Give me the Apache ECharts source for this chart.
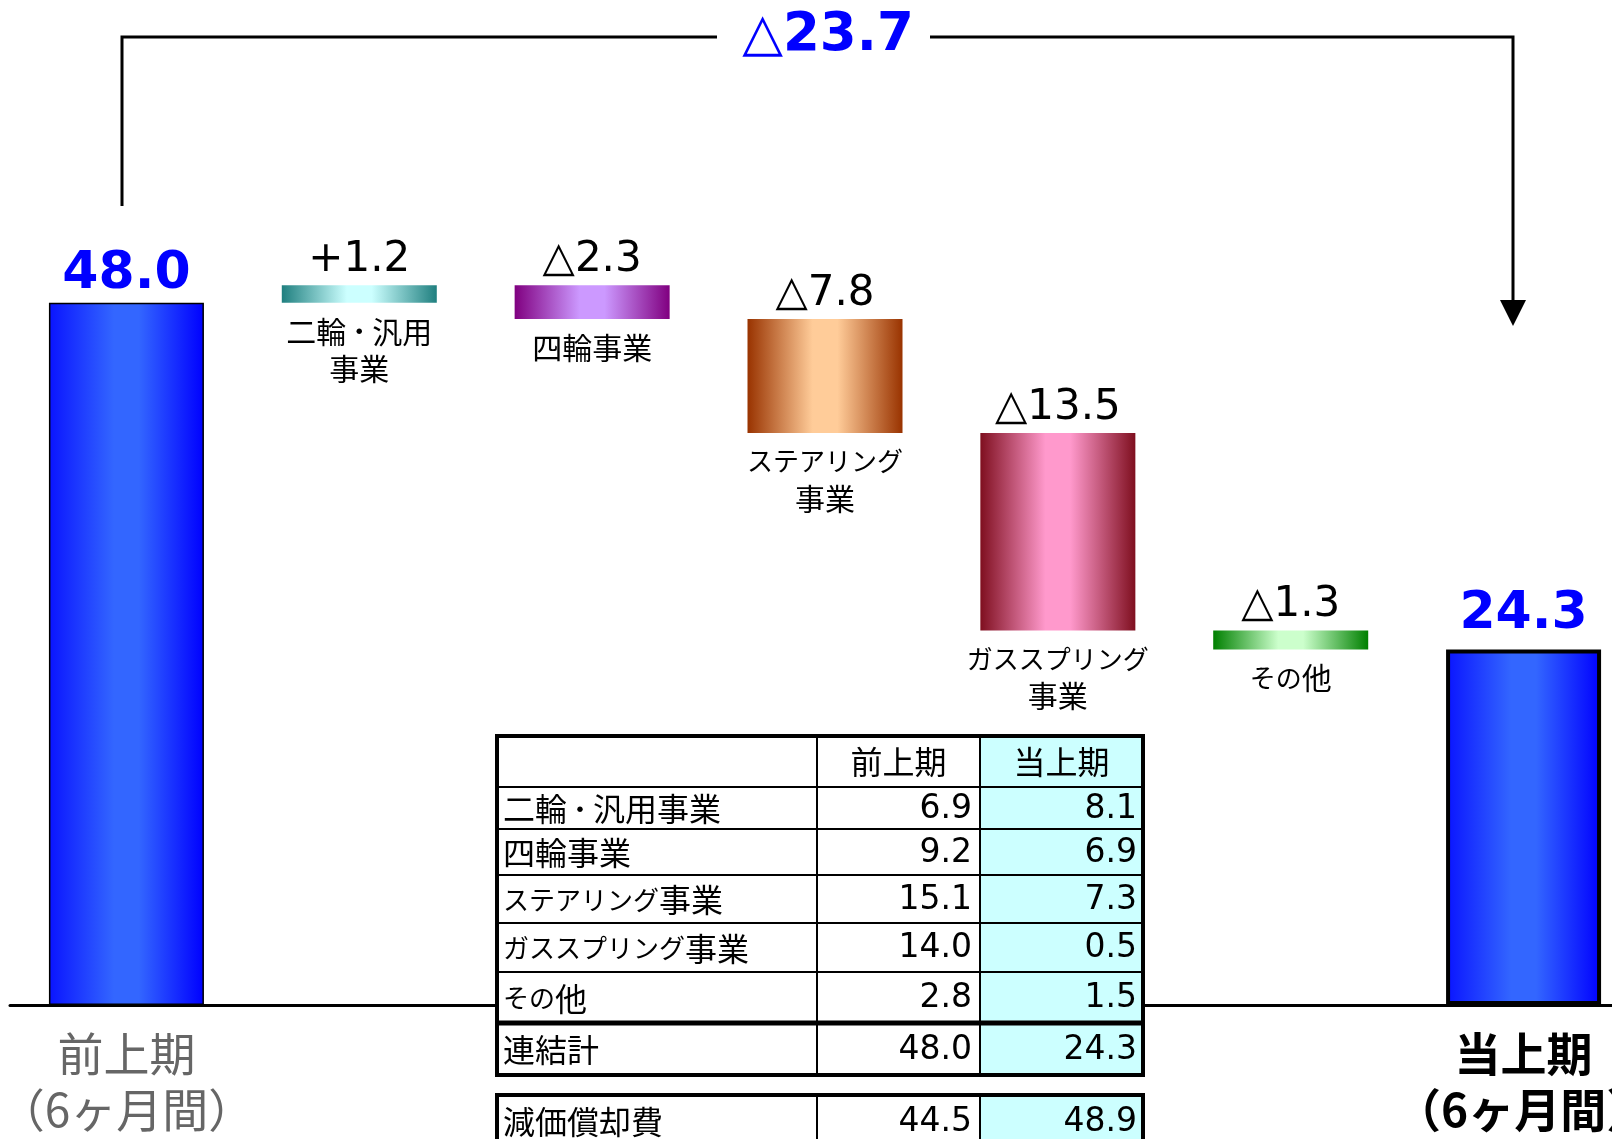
<!DOCTYPE html>
<html>
<head>
<meta charset="utf-8">
<script src="https://cdn.jsdelivr.net/npm/echarts@6/dist/echarts.min.js"></script>
<style>
html, body { margin: 0; padding: 0; background: #fff; }
#chart { width: 1612px; height: 1139px; }
</style>
</head>
<body>
<div id="chart"></div>
<script>
// カテゴリ・データ
var categories = ['前上期\n（6ヶ月間）', '二輪・汎用\n事業', '四輪事業', 'ステアリング\n事業', 'ガススプリング\n事業', 'その他', '当上期\n（6ヶ月間）'];
var startValue = 48.0;
var endValue = 24.3;
var changes = [1.2, -2.3, -7.8, -13.5, -1.3];
var totalChange = -23.7;

// 表のデータ
var tableHeader = ['', '前上期', '当上期'];
var tableRows = ['二輪・汎用事業', '四輪事業', 'ステアリング事業', 'ガススプリング事業', 'その他', '連結計'];
var prevValues = [6.9, 9.2, 15.1, 14.0, 2.8, 48.0];
var currValues = [8.1, 6.9, 7.3, 0.5, 1.5, 24.3];
var depreciationLabel = '減価償却費';
var depreciationValues = [44.5, 48.9];

var barColors = [
	['#0A14FF', '#3366FF', '#0000FF'],
	['#1F7F7F', '#CCFFFF', '#1F7F7F'],
	['#800080', '#CC99FF', '#800080'],
	['#993300', '#FFCC99', '#993300'],
	['#7F0F1F', '#FF99CC', '#7F0F1F'],
	['#008000', '#CCFFCC', '#008000'],
	['#0A14FF', '#3366FF', '#0000FF']
];

var jpFont = '"Noto Sans CJK JP"';
var numFont = '"DejaVu Sans", "Noto Sans CJK JP"';

function barGradient(c) {
	return new echarts.graphic.LinearGradient(0, 0, 1, 0, [
		{ offset: 0, color: c[0] },
		{ offset: 0.42, color: c[1] },
		{ offset: 0.58, color: c[1] },
		{ offset: 1, color: c[2] }
	]);
}

function changeText(c) {
	return (c > 0 ? '+' : '△') + Math.abs(c).toFixed(1);
}

// かなは少し細く見せるため小さめの文字にする
function richKana(text) {
	return text.split('\n').map(function (line) {
		return line.replace(/([\u3040-\u30FF]+)|([^\u3040-\u30FF]+)/g, function (m, kana, other) {
			return kana ? '{k|' + kana + '}' : '{j|' + other + '}';
		});
	}).join('\n');
}

// 滝グラフの土台と値
var baseData = [0];
var valueData = [startValue];
var level = startValue;
for (var i = 0; i < changes.length; i++) {
	var next = Math.round((level + changes[i]) * 10) / 10;
	baseData.push(Math.min(level, next));
	valueData.push(Math.abs(changes[i]));
	level = next;
}
baseData.push(0);
valueData.push(endValue);

var lastIndex = categories.length - 1;

var valueItems = [];
for (var j = 0; j < valueData.length; j++) {
	var isTotal = (j === 0 || j === lastIndex);
	valueItems.push({
		value: valueData[j],
		itemStyle: {
			color: barGradient(barColors[j]),
			borderColor: '#000',
			borderWidth: j === lastIndex ? 4 : (j === 0 ? 1.5 : 0)
		},
		label: isTotal ? {
			formatter: valueData[j].toFixed(1),
			color: '#0000FF',
			fontWeight: 'bold',
			fontSize: 52,
			distance: j === 0 ? 2 : 9
		} : {
			formatter: changeText(changes[j - 1]),
			color: '#000',
			fontSize: 42,
			distance: 4
		}
	});
}

// 表
var colX = [497, 817, 980, 1143];
var rowY = [736, 787, 829, 875, 923, 972, 1023, 1075];
var depY = [1095, 1149];

function tableText(text, x, y, align, isNum) {
	var style = {
		fill: '#000',
		align: align, verticalAlign: 'middle'
	};
	if (isNum) {
		style.text = text;
		style.fontSize = 33;
		style.fontFamily = numFont;
	} else {
		style.text = richKana(text);
		style.rich = {
			j: { fontSize: 32, lineHeight: 40, fontFamily: jpFont, fill: '#000' },
			k: { fontSize: 26, lineHeight: 40, fontFamily: jpFont, fill: '#000' }
		};
	}
	return { type: 'text', x: x, y: y, z: 12, style: style };
}

function hLine(x1, x2, y, w) {
	return { type: 'line', z: 11, shape: { x1: x1, y1: y, x2: x2, y2: y }, style: { stroke: '#000', lineWidth: w } };
}
function vLine(x, y1, y2, w) {
	return { type: 'line', z: 11, shape: { x1: x, y1: y1, x2: x, y2: y2 }, style: { stroke: '#000', lineWidth: w } };
}

function buildTable() {
	var els = [];
	var top = rowY[0], bottom = rowY[rowY.length - 1];
	els.push({ type: 'rect', z: 10, shape: { x: colX[0], y: top, width: colX[2] - colX[0], height: bottom - top }, style: { fill: '#fff' } });
	els.push({ type: 'rect', z: 10, shape: { x: colX[2], y: top, width: colX[3] - colX[2], height: bottom - top }, style: { fill: '#CCFFFF' } });
	for (var r = 1; r < rowY.length - 1; r++) {
		els.push(hLine(colX[0], colX[3], rowY[r], r === rowY.length - 2 ? 5 : 2));
	}
	els.push(vLine(colX[1], top, bottom, 2));
	els.push(vLine(colX[2], top, bottom, 2));
	els.push({ type: 'rect', z: 11, shape: { x: colX[0], y: top, width: colX[3] - colX[0], height: bottom - top }, style: { fill: null, stroke: '#000', lineWidth: 4 } });

	var hy = (rowY[0] + rowY[1]) / 2;
	els.push(tableText(tableHeader[1], (colX[1] + colX[2]) / 2, hy, 'center', false));
	els.push(tableText(tableHeader[2], (colX[2] + colX[3]) / 2, hy, 'center', false));
	for (var k = 0; k < tableRows.length; k++) {
		var cy = (rowY[k + 1] + rowY[k + 2]) / 2 + 1;
		els.push(tableText(tableRows[k], colX[0] + 6, cy, 'left', false));
		els.push(tableText(prevValues[k].toFixed(1), colX[2] - 8, cy, 'right', true));
		els.push(tableText(currValues[k].toFixed(1), colX[3] - 6, cy, 'right', true));
	}

	// 減価償却費
	els.push({ type: 'rect', z: 10, shape: { x: colX[0], y: depY[0], width: colX[2] - colX[0], height: depY[1] - depY[0] }, style: { fill: '#fff' } });
	els.push({ type: 'rect', z: 10, shape: { x: colX[2], y: depY[0], width: colX[3] - colX[2], height: depY[1] - depY[0] }, style: { fill: '#CCFFFF' } });
	els.push(vLine(colX[1], depY[0], depY[1], 2));
	els.push(vLine(colX[2], depY[0], depY[1], 2));
	els.push({ type: 'rect', z: 11, shape: { x: colX[0], y: depY[0], width: colX[3] - colX[0], height: depY[1] - depY[0] }, style: { fill: null, stroke: '#000', lineWidth: 4 } });
	var dy = (depY[0] + depY[1]) / 2;
	els.push(tableText(depreciationLabel, colX[0] + 6, dy, 'left', false));
	els.push(tableText(depreciationValues[0].toFixed(1), colX[2] - 8, dy, 'right', true));
	els.push(tableText(depreciationValues[1].toFixed(1), colX[3] - 6, dy, 'right', true));
	return els;
}

// 全体の増減の矢印
var bracket = [
	{ type: 'polyline', z: 5, shape: { points: [[122, 206], [122, 37], [717, 37]] }, style: { stroke: '#000', lineWidth: 3, fill: null } },
	{ type: 'polyline', z: 5, shape: { points: [[930, 37], [1513, 37], [1513, 304]] }, style: { stroke: '#000', lineWidth: 3, fill: null } },
	{ type: 'polygon', z: 5, shape: { points: [[1500, 300], [1526, 300], [1513, 326]] }, style: { fill: '#000' } },
	{
		type: 'text', z: 5, x: 828, y: 36,
		style: {
			text: changeText(totalChange), fill: '#0000FF', fontSize: 53, fontWeight: 'bold',
			fontFamily: numFont, align: 'center', verticalAlign: 'middle'
		}
	}
];

var chart = echarts.init(document.getElementById('chart'));

var option = {
	animation: false,
	backgroundColor: '#fff',
	grid: {
		left: 10, right: -28, top: 0, bottom: 134,
		containLabel: false,
		outerBoundsMode: 'none'
	},
	xAxis: {
		type: 'category',
		data: categories,
		axisLine: { lineStyle: { color: '#000', width: 3 } },
		axisTick: { show: false },
		axisLabel: {
			interval: 0,
			margin: 21,
			formatter: function (value, idx) {
				var parts = value.split('\n');
				if (idx === 0) {
					return '{prev|' + parts[0] + '}\n{prev|' + parts[1] + '}';
				}
				if (idx === lastIndex) {
					return '{curr|' + parts[0] + '}\n{curr|' + parts[1] + '}';
				}
				return '';
			},
			rich: {
				prev: { fontSize: 46, lineHeight: 56, color: '#666666', fontFamily: jpFont },
				curr: { fontSize: 46, lineHeight: 56, color: '#000', fontWeight: 'bold', fontFamily: jpFont }
			}
		}
	},
	yAxis: {
		type: 'value',
		min: 0,
		max: 68.7,
		show: false
	},
	series: [
		{
			type: 'bar',
			stack: 'waterfall',
			barWidth: 155,
			silent: true,
			data: baseData,
			itemStyle: { color: 'transparent' },
			emphasis: { disabled: true },
			label: {
				show: true,
				position: 'insideTop',
				distance: 10,
				color: '#000',
				textBorderWidth: 0,
				formatter: function (p) {
					if (p.dataIndex === 0 || p.dataIndex === lastIndex) {
						return '';
					}
					return richKana(categories[p.dataIndex]);
				},
				rich: {
					j: { fontSize: 30, lineHeight: 37, fontFamily: jpFont, color: '#000' },
					k: { fontSize: 26, lineHeight: 37, fontFamily: jpFont, color: '#000' }
				}
			}
		},
		{
			type: 'bar',
			stack: 'waterfall',
			barWidth: 155,
			silent: true,
			data: valueItems,
			emphasis: { disabled: true },
			label: {
				show: true,
				position: 'top',
				fontFamily: numFont
			}
		}
	],
	graphic: {
		elements: bracket.concat(buildTable())
	}
};

chart.setOption(option);
</script>
</body>
</html>
